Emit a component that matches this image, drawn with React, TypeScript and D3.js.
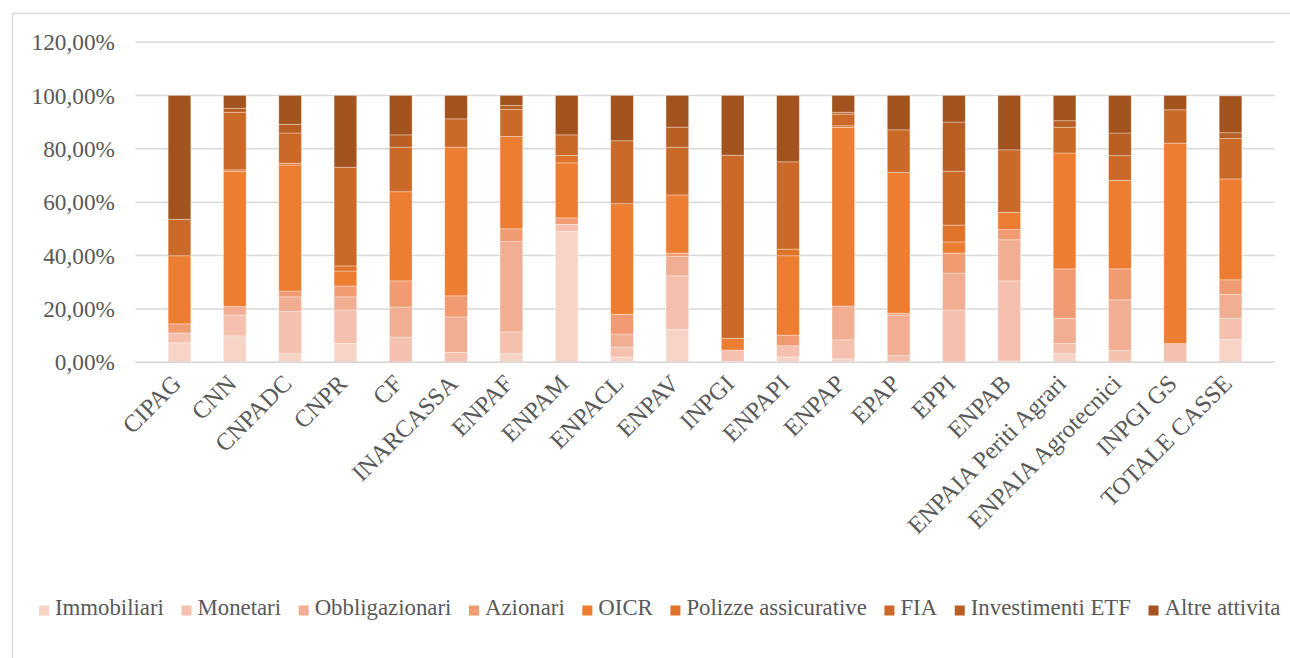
import * as d3 from "d3";

const casse = [
  "CIPAG", "CNN", "CNPADC", "CNPR", "CF", "INARCASSA", "ENPAF", "ENPAM", "ENPACL", "ENPAV",
  "INPGI", "ENPAPI", "ENPAP", "EPAP", "EPPI", "ENPAB", "ENPAIA Periti Agrari", "ENPAIA Agrotecnici", "INPGI GS", "TOTALE CASSE",
];

const voci = [
  "Immobiliari", "Monetari", "Obbligazionari", "Azionari", "OICR",
  "Polizze assicurative", "FIA", "Investimenti ETF", "Altre attivita",
];

// percentuali, una riga per cassa
const immobiliari = [7.3, 9.9, 3.2, 7.0, 0, 0, 3.2, 49.0, 2.0, 12.4, 0.3, 2.0, 1.3, 0, 0, 0.5, 3.2, 0, 0, 8.6];
const monetari = [3.7, 7.8, 15.8, 12.6, 9.4, 3.7, 8.2, 2.7, 3.7, 20.0, 4.3, 4.2, 7.1, 2.5, 19.6, 30.0, 3.8, 4.5, 7.0, 7.9];
const obbligazionari = [0, 3.2, 5.5, 4.9, 11.3, 13.3, 33.8, 0, 4.9, 7.2, 0, 0, 12.7, 15.2, 13.8, 15.4, 9.5, 18.9, 0, 8.9];
const azionari = [3.4, 0, 2.2, 4.1, 9.8, 7.9, 4.8, 2.4, 7.4, 1.3, 0, 4.0, 0, 0.7, 7.5, 3.8, 18.5, 11.6, 0, 5.5];
const oicr = [25.5, 50.6, 47.2, 5.6, 33.4, 55.7, 34.6, 20.6, 41.4, 21.8, 4.4, 29.7, 66.9, 52.8, 4.2, 6.5, 43.4, 33.2, 75.1, 37.8];
const polizze = [0, 0.6, 0.7, 1.9, 0, 0, 0, 2.8, 0, 0, 0, 2.5, 0.6, 0, 6.3, 0, 0, 0, 0, 0];
const fia = [13.7, 21.6, 11.3, 37.0, 16.7, 10.6, 10.1, 7.7, 23.6, 17.9, 68.6, 32.7, 4.4, 15.9, 20.2, 23.4, 9.7, 9.2, 12.5, 15.1];
const etf = [0, 1.5, 3.3, 0, 4.6, 0, 1.5, 0, 0, 7.5, 0, 0, 0.7, 0, 18.4, 0, 2.4, 8.5, 0, 2.2];
const altre = [46.4, 4.8, 10.8, 26.9, 14.8, 8.8, 3.8, 14.8, 17.0, 11.9, 22.4, 24.9, 6.3, 12.9, 10.0, 20.4, 9.5, 14.1, 5.4, 13.8];

const serie = [immobiliari, monetari, obbligazionari, azionari, oicr, polizze, fia, etf, altre];
const colori = ["#F8D4C7", "#F5C0AD", "#F2AE92", "#F09B72", "#ED7D31", "#DE7329", "#CB6A28", "#B95F23", "#A3531E"];
const yTicks = [0, 20, 40, 60, 80, 100, 120];

const font = '"Liberation Serif", "Times New Roman", "DejaVu Serif", serif';
const axisFont = 23.3;
const catFont = 24.3;
const legendFont = 22.8;
const textColor = "#595959";

const width = 1290;
const height = 658;
const marginTop = 42;
const plotBottom = 362.3;
const plotLeft = 135.5;
const plotRight = 1274.5;

const measure = (() => {
  const ctx = document.createElement("canvas").getContext("2d");
  return (t: string) => {
    if (!ctx) return t.length * legendFont * 0.45;
    ctx.font = `${legendFont}px ${font}`;
    return ctx.measureText(t).width;
  };
})();

export default function App() {
  const x = d3.scaleBand().domain(casse).range([plotLeft, plotRight]).padding(0.59);
  const y = d3.scaleLinear().domain([0, 120]).range([plotBottom, marginTop]);

  const rows = casse.map((c, i) => {
    const r: Record<string, number | string> = { cassa: c };
    voci.forEach((v, k) => (r[v] = serie[k][i]));
    return r;
  });
  const stacked = d3.stack<Record<string, number | string>>().keys(voci)
    .value((d, key) => d[key] as number)(rows);

  // legenda: marker + testo, uno dopo l'altro
  let lx = 39;
  const legend = voci.map((v) => {
    const item = { v, x: lx };
    lx += 16 + measure(v) + 17.6;
    return item;
  });

  return (
    <svg width={width} height={height} style={{ position: "absolute", left: 0, top: 0, background: "#fff", fontFamily: font }}>
      <rect x={12.5} y={13.5} width={width + 10} height={height + 10} fill="none" stroke="#D9D9D9" strokeWidth={1.5} />
      <g fontSize={axisFont}>
        {yTicks.map((t) => (
          <g key={t}>
            <line x1={plotLeft} x2={plotRight} y1={y(t)} y2={y(t)} stroke="#D9D9D9" strokeWidth={1.5} />
            <text x={115} y={y(t)} dy="0.35em" textAnchor="end" fill={textColor}>
              {d3.format(".2f")(t).replace(".", ",")}%
            </text>
          </g>
        ))}
      </g>
      <g>
        {stacked.map((s, k) => (
          <g key={s.key} fill={colori[k]}>
            {s.map((d, i) => (
              d[1] - d[0] > 0 ? (
                <rect key={i} x={x(casse[i])} width={x.bandwidth()} y={y(d[1])} height={y(d[0]) - y(d[1])}
                  stroke="#ffffff" strokeOpacity={0.45} strokeWidth={0.75} />
              ) : null
            ))}
          </g>
        ))}
      </g>
      <line x1={plotLeft} x2={plotRight} y1={y(0)} y2={y(0)} stroke="#D9D9D9" strokeWidth={1.5} />
      <g fill={textColor} fontSize={catFont}>
        {casse.map((c) => (
          <text key={c} textAnchor="end"
            transform={`translate(${(x(c) ?? 0) + x.bandwidth() / 2 + 3},${385}) rotate(-45)`}>
            {c}
          </text>
        ))}
      </g>
      <g fill={textColor} fontSize={legendFont}>
        {legend.map((l, k) => (
          <g key={l.v}>
            <rect x={l.x} y={605.5} width={10} height={10} fill={colori[k]} />
            <text x={l.x + 16} y={614.5}>{l.v}</text>
          </g>
        ))}
      </g>
    </svg>
  );
}
